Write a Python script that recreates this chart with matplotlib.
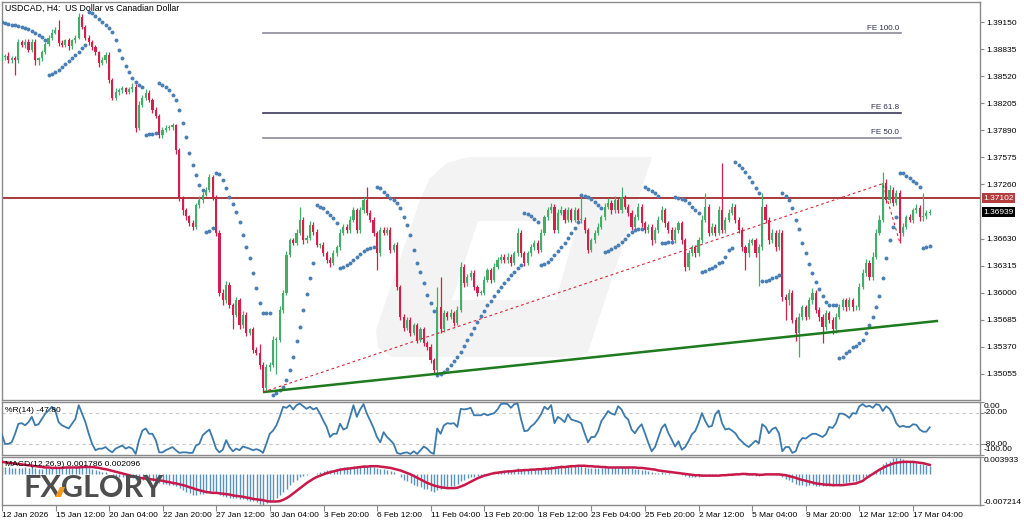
import numpy as np
import matplotlib
matplotlib.use("Agg")
import matplotlib.pyplot as plt
from matplotlib.patches import Polygon
from matplotlib import transforms

plt.rcParams['font.family'] = ['Liberation Sans', 'DejaVu Sans']

# ---------------- data ----------------
first_open = 1.3873
closes = [
    1.3875, 1.3876, 1.3871, 1.3873, 1.3871, 1.3892, 1.3889, 1.3892, 1.3883, 1.3892,
    1.3871, 1.3873, 1.3880, 1.3890, 1.3897, 1.3903, 1.3906, 1.3891, 1.3889, 1.3894,
    1.3887, 1.3894, 1.3897, 1.3921, 1.3910, 1.3897, 1.3892, 1.3886, 1.3880, 1.3868,
    1.3871, 1.3877, 1.3848, 1.3827, 1.3834, 1.3836, 1.3838, 1.3834, 1.3837, 1.3840,
    1.3792, 1.3819, 1.3827, 1.3833, 1.3825, 1.3813, 1.3806, 1.3784, 1.3790, 1.3792,
    1.3793, 1.3795, 1.3766, 1.3711, 1.3696, 1.3689, 1.3681, 1.3677, 1.3702, 1.3708,
    1.3714, 1.3720, 1.3735, 1.3711, 1.3670, 1.3600, 1.3591, 1.3609, 1.3586, 1.3574,
    1.3591, 1.3562, 1.3574, 1.3553, 1.3557, 1.3533, 1.3530, 1.3516, 1.3489, 1.3513,
    1.3516, 1.3545, 1.3545, 1.3580, 1.3600, 1.3644, 1.3661, 1.3658, 1.3670, 1.3685,
    1.3661, 1.3664, 1.3679, 1.3671, 1.3656, 1.3656, 1.3646, 1.3638, 1.3635, 1.3646,
    1.3653, 1.3670, 1.3677, 1.3673, 1.3685, 1.3696, 1.3673, 1.3696, 1.3708, 1.3693,
    1.3685, 1.3670, 1.3646, 1.3673, 1.3670, 1.3673, 1.3650, 1.3656, 1.3607, 1.3572,
    1.3559, 1.3568, 1.3553, 1.3562, 1.3545, 1.3557, 1.3541, 1.3537, 1.3522, 1.3510,
    1.3583, 1.3557, 1.3576, 1.3572, 1.3576, 1.3565, 1.3580, 1.3630, 1.3611, 1.3618,
    1.3623, 1.3607, 1.3600, 1.3600, 1.3615, 1.3626, 1.3615, 1.3630, 1.3638, 1.3642,
    1.3638, 1.3642, 1.3635, 1.3646, 1.3670, 1.3646, 1.3635, 1.3646, 1.3653, 1.3658,
    1.3650, 1.3670, 1.3688, 1.3696, 1.3700, 1.3673, 1.3693, 1.3696, 1.3685, 1.3696,
    1.3685, 1.3696, 1.3685, 1.3685, 1.3673, 1.3650, 1.3661, 1.3670, 1.3677, 1.3688,
    1.3700, 1.3705, 1.3696, 1.3708, 1.3696, 1.3711, 1.3700, 1.3693, 1.3677, 1.3688,
    1.3700, 1.3681, 1.3673, 1.3677, 1.3661, 1.3673, 1.3685, 1.3696, 1.3681, 1.3673,
    1.3661, 1.3673, 1.3681, 1.3661, 1.3630, 1.3646, 1.3653, 1.3646, 1.3661, 1.3685,
    1.3700, 1.3670, 1.3677, 1.3670, 1.3696, 1.3673, 1.3685, 1.3693, 1.3700, 1.3685,
    1.3673, 1.3653, 1.3646, 1.3658, 1.3661, 1.3646, 1.3653, 1.3700, 1.3685, 1.3661,
    1.3670, 1.3653, 1.3670, 1.3595, 1.3591, 1.3600, 1.3568, 1.3553, 1.3572, 1.3583,
    1.3572, 1.3591, 1.3600, 1.3580, 1.3572, 1.3560, 1.3576, 1.3568, 1.3557, 1.3572,
    1.3583, 1.3591, 1.3583, 1.3591, 1.3583, 1.3583, 1.3607, 1.3623, 1.3635, 1.3618,
    1.3642, 1.3670, 1.3685, 1.3728, 1.3708, 1.3720, 1.3705, 1.3716, 1.3670, 1.3677,
    1.3688, 1.3685, 1.3696, 1.3699, 1.3688, 1.3689, 1.3693, 1.36939,
]
# wick lengths above / below the body, in pips
upper_wick_pips = [
    3, 2, 4, 3, 3, 4, 2, 3, 3, 4, 3, 2, 3, 2, 3, 4, 3, 12, 3, 2,
    3, 2, 3, 5, 4, 2, 3, 2, 3, 2, 4, 3, 3, 2, 4, 3, 3, 2, 3, 4,
    3, 4, 3, 4, 3, 2, 3, 2, 3, 3, 2, 3, 2, 3, 2, 3, 2, 4, 3, 4,
    3, 3, 3, 2, 3, 3, 4, 5, 3, 2, 4, 3, 4, 3, 2, 3, 3, 10, 3, 4,
    3, 4, 3, 4, 3, 4, 3, 3, 4, 15, 3, 3, 4, 3, 3, 2, 3, 2, 3, 4,
    3, 4, 3, 3, 4, 4, 3, 4, 3, 15, 3, 3, 2, 4, 3, 3, 3, 2, 3, 2,
    3, 4, 3, 3, 2, 3, 3, 2, 3, 2, 23, 35, 4, 3, 5, 3, 4, 6, 3, 4,
    3, 3, 2, 3, 4, 3, 3, 4, 3, 3, 3, 4, 3, 3, 5, 3, 2, 3, 4, 3,
    3, 4, 3, 4, 5, 3, 4, 5, 3, 4, 3, 4, 3, 27, 3, 2, 3, 3, 4, 3,
    4, 5, 3, 4, 3, 12, 3, 3, 3, 4, 4, 3, 3, 3, 3, 4, 4, 5, 3, 3,
    3, 4, 3, 3, 3, 4, 3, 3, 4, 5, 16, 3, 4, 3, 5, 55, 3, 4, 5, 3,
    3, 3, 3, 4, 3, 3, 4, 16, 3, 3, 4, 3, 4, 3, 3, 4, 3, 3, 4, 3,
    3, 4, 5, 3, 3, 3, 4, 3, 3, 4, 4, 3, 3, 4, 3, 3, 4, 5, 4, 3,
    5, 4, 5, 12, 4, 5, 3, 4, 3, 4, 3, 4, 3, 4, 3, 27, 3, 3,
]
lower_wick_pips = [
    3, 4, 3, 3, 17, 3, 3, 4, 3, 3, 6, 6, 3, 2, 3, 3, 2, 4, 3, 3,
    4, 3, 3, 2, 3, 3, 4, 3, 3, 5, 3, 3, 4, 3, 3, 4, 3, 3, 3, 3,
    5, 3, 3, 2, 3, 4, 3, 4, 4, 3, 3, 3, 4, 4, 5, 4, 3, 4, 3, 3,
    3, 2, 3, 3, 4, 4, 5, 3, 4, 17, 3, 5, 3, 4, 3, 4, 3, 5, 5, 3,
    4, 3, 40, 3, 4, 3, 3, 3, 3, 3, 4, 3, 3, 4, 3, 4, 3, 4, 5, 3,
    3, 3, 3, 4, 3, 3, 4, 3, 3, 3, 3, 4, 20, 3, 3, 3, 4, 3, 4, 4,
    4, 3, 4, 3, 4, 3, 3, 4, 4, 4, 4, 4, 3, 4, 3, 4, 3, 3, 4, 3,
    3, 4, 4, 3, 3, 3, 4, 3, 3, 3, 3, 3, 4, 3, 3, 4, 4, 3, 3, 3,
    4, 3, 3, 3, 3, 4, 3, 3, 4, 3, 3, 3, 3, 4, 4, 4, 3, 3, 3, 3,
    3, 3, 4, 3, 3, 3, 3, 4, 4, 3, 3, 4, 3, 3, 5, 3, 3, 3, 4, 3,
    4, 3, 3, 4, 5, 4, 3, 4, 3, 3, 3, 4, 3, 4, 3, 4, 3, 3, 3, 4,
    3, 4, 20, 4, 3, 5, 38, 3, 4, 4, 3, 4, 3, 5, 23, 5, 4, 10, 28, 4,
    4, 3, 4, 4, 5, 19, 4, 3, 5, 4, 3, 3, 4, 3, 4, 3, 3, 3, 4, 3,
    3, 3, 3, 3, 4, 3, 4, 3, 12, 4, 3, 3, 4, 3, 4, 4, 3, 3,
]
# Parabolic SAR dots
sar = [
    1.3915, 1.3914, 1.3913, 1.3912, 1.3912, 1.3911, 1.3910, 1.3908, 1.3907, 1.3905,
    1.3903, 1.3900, 1.3898, 1.3894,
    1.3854, 1.3855, 1.3857, 1.3859, 1.3863, 1.3866, 1.3870, 1.3873, 1.3877, 1.3880, 1.3885, 1.3889,
    1.3927, 1.3926, 1.3922, 1.3919, 1.3915, 1.3912, 1.3908, 1.3904, 1.3894, 1.3883,
    1.3873, 1.3864, 1.3857, 1.3850, 1.3845, 1.3842, 1.3840,
    1.3784, 1.3785, 1.3785, 1.3786,
    1.3844, 1.3842, 1.3840, 1.3836, 1.3830, 1.3824, 1.3813, 1.3798, 1.3781, 1.3763,
    1.3749, 1.3737, 1.3725, 1.3720,
    1.3671, 1.3672, 1.3675,
    1.3739, 1.3738, 1.3731, 1.3722, 1.3711, 1.3703, 1.3694, 1.3682, 1.3667, 1.3653,
    1.3640, 1.3623, 1.3605, 1.3588, 1.3576, 1.3576, 1.3576,
    1.3481, 1.3483, 1.3487, 1.3490, 1.3498, 1.3510, 1.3525, 1.3543, 1.3560, 1.3580,
    1.3598, 1.3617, 1.3635,
    1.3702, 1.3700, 1.3699, 1.3694, 1.3691, 1.3687, 1.3681,
    1.3629, 1.3630, 1.3632, 1.3635, 1.3638, 1.3642, 1.3645, 1.3649, 1.3651, 1.3652, 1.3653,
    1.3723, 1.3722, 1.3717, 1.3714, 1.3710, 1.3708, 1.3705, 1.3699, 1.3688, 1.3679,
    1.3667, 1.3650, 1.3635, 1.3624, 1.3611, 1.3597, 1.3588, 1.3578,
    1.3504, 1.3505, 1.3508, 1.3511, 1.3516, 1.3520, 1.3525, 1.3531, 1.3538, 1.3545,
    1.3552, 1.3559, 1.3566, 1.3573, 1.3579, 1.3585, 1.3590, 1.3596, 1.3602, 1.3607,
    1.3611, 1.3616, 1.3621, 1.3624, 1.3629, 1.3632,
    1.3693, 1.3692, 1.3689, 1.3686, 1.3682,
    1.3632, 1.3633, 1.3636, 1.3639, 1.3644, 1.3649, 1.3653, 1.3658, 1.3664, 1.3670,
    1.3675, 1.3682,
    1.3714, 1.3713, 1.3711, 1.3709, 1.3706, 1.3702, 1.3699,
    1.3647, 1.3649, 1.3651, 1.3653, 1.3656, 1.3659, 1.3663, 1.3667, 1.3671, 1.3673,
    1.3674, 1.3674,
    1.3723, 1.3721, 1.3718, 1.3716, 1.3713,
    1.3658, 1.3658, 1.3659, 1.3659,
    1.3711, 1.3710, 1.3709, 1.3708, 1.3705, 1.3700, 1.3696, 1.3693,
    1.3624, 1.3625, 1.3628, 1.3629, 1.3631, 1.3635, 1.3636, 1.3642, 1.3650, 1.3652,
    1.3752, 1.3749, 1.3745, 1.3741, 1.3735, 1.3729, 1.3722, 1.3716,
    1.3614, 1.3614, 1.3615, 1.3617, 1.3618, 1.3621,
    1.3716, 1.3713, 1.3708, 1.3699, 1.3685, 1.3674, 1.3658, 1.3646, 1.3633, 1.3623,
    1.3612, 1.3604, 1.3596, 1.3589, 1.3585, 1.3585, 1.3585,
    1.3524, 1.3525, 1.3529, 1.3532, 1.3536, 1.3538, 1.3541, 1.3545, 1.3553, 1.3562,
    1.3572, 1.3583, 1.3596, 1.3617, 1.3640, 1.3661, 1.3677, 1.3688,
    1.3739, 1.3739, 1.3736, 1.3734, 1.3730, 1.3728, 1.3723,
    1.3652, 1.3653, 1.3654,
]
# Williams %R(14)
williams_r = [
    -60, -79, -79, -76, -60, -41, -40, -44, -38, -28, -44, -42, -32, -22, -16, -9, -16, -38, -44, -47,
    -50, -41, -32, -6, -22, -38, -60, -79, -91, -88, -88, -85, -91, -95, -88, -85, -82, -88, -85, -88,
    -98, -72, -54, -50, -60, -60, -72, -95, -95, -91, -88, -85, -91, -96, -95, -95, -96, -96, -82, -79,
    -63, -57, -52, -69, -88, -95, -90, -72, -85, -93, -88, -91, -84, -86, -88, -91, -89, -91, -96, -79,
    -60, -54, -44, -28, -9, -11, -6, -14, -6, -3, -8, -13, -9, -14, -11, -22, -35, -47, -66, -60,
    -60, -41, -52, -49, -28, -6, -28, -14, -4, -22, -35, -49, -66, -76, -57, -66, -72, -79, -96, -98,
    -96, -95, -98, -93, -98, -91, -84, -88, -95, -98, -50, -60, -44, -40, -41, -40, -47, -13, -14, -13,
    -11, -25, -25, -25, -22, -25, -23, -21, -14, -4, -3, -4, -11, -4, -3, -32, -55, -54, -46, -41,
    -33, -23, -9, -14, -6, -40, -28, -32, -38, -23, -33, -35, -37, -40, -59, -76, -66, -66, -55, -36,
    -27, -17, -22, -24, -8, -14, -27, -33, -52, -59, -49, -42, -59, -77, -93, -85, -67, -49, -42, -59,
    -71, -84, -74, -90, -85, -74, -61, -55, -40, -21, -36, -47, -45, -23, -16, -40, -52, -50, -54, -59,
    -69, -75, -81, -85, -79, -73, -78, -42, -47, -59, -51, -48, -59, -93, -85, -85, -96, -93, -76, -68,
    -69, -64, -60, -60, -63, -66, -61, -47, -49, -40, -22, -22, -25, -30, -21, -22, -8, -4, -9, -7,
    -11, -4, -6, -17, -8, -13, -24, -40, -47, -45, -47, -47, -42, -43, -52, -56, -56, -47.8,
]
# MACD(12,26,9) main (histogram) and signal
macd_main = [
    0.0017, 0.0016, 0.0015, 0.0014, 0.0013, 0.0014, 0.0014, 0.0015, 0.0014, 0.0015,
    0.0013, 0.0012, 0.0012, 0.0013, 0.0014, 0.0016, 0.0017, 0.0016, 0.0015, 0.0015,
    0.0014, 0.0014, 0.0015, 0.0018, 0.0018, 0.0016, 0.0014, 0.0012, 0.0010, 0.0007,
    0.0005, 0.0004, 0.0001, -0.0003, -0.0005, -0.0006, -0.0007, -0.0008, -0.0009, -0.0009,
    -0.0014, -0.0015, -0.0015, -0.0014, -0.0015, -0.0016, -0.0018, -0.0021, -0.0023, -0.0024,
    -0.0025, -0.0025, -0.0027, -0.0033, -0.0038, -0.0042, -0.0045, -0.0048, -0.0048, -0.0047,
    -0.0046, -0.0044, -0.0041, -0.0040, -0.0042, -0.0048, -0.0052, -0.0053, -0.0055, -0.0057,
    -0.0057, -0.0059, -0.0059, -0.0061, -0.0062, -0.0064, -0.0065, -0.0069, -0.007214, -0.0067,
    -0.0064, -0.0060, -0.0055, -0.0049, -0.0042, -0.0034, -0.0026, -0.0019, -0.0013, -0.0008,
    -0.0005, -0.0003, -0.0001, 0.0001, 0.0003, 0.0005, 0.0007, 0.0008, 0.0009, 0.0010,
    0.0012, 0.0014, 0.0015, 0.0016, 0.0017, 0.0018, 0.0018, 0.0019, 0.0020, 0.0019,
    0.0018, 0.0016, 0.0013, 0.0012, 0.0011, 0.0010, 0.0007, 0.0005, 0.0000, -0.0007,
    -0.0013, -0.0017, -0.0022, -0.0025, -0.0029, -0.0031, -0.0034, -0.0036, -0.0039, -0.0042,
    -0.0037, -0.0036, -0.0033, -0.0031, -0.0029, -0.0027, -0.0024, -0.0017, -0.0013, -0.0010,
    -0.0007, -0.0006, -0.0005, -0.0004, -0.0002, 0.0000, 0.0001, 0.0003, 0.0005, 0.0007,
    0.0008, 0.0009, 0.0009, 0.0010, 0.0013, 0.0012, 0.0011, 0.0011, 0.0011, 0.0012,
    0.0011, 0.0013, 0.0015, 0.0017, 0.0019, 0.0018, 0.0019, 0.0020, 0.0019, 0.0020,
    0.0019, 0.0020, 0.0019, 0.0019, 0.0017, 0.0014, 0.0013, 0.0013, 0.0013, 0.0014,
    0.0015, 0.0016, 0.0016, 0.0017, 0.0016, 0.0017, 0.0016, 0.0015, 0.0013, 0.0012,
    0.0012, 0.0010, 0.0008, 0.0007, 0.0004, 0.0003, 0.0003, 0.0004, 0.0003, 0.0002,
    0.0000, -0.0001, -0.0001, -0.0002, -0.0005, -0.0006, -0.0006, -0.0007, -0.0006, -0.0004,
    -0.0002, -0.0003, -0.0003, -0.0003, -0.0001, -0.0001, 0.0000, 0.0001, 0.0002, 0.0002,
    0.0001, 0.0000, -0.0002, -0.0002, -0.0003, -0.0004, -0.0004, 0.0000, 0.0001, 0.0000,
    -0.0001, -0.0002, -0.0002, -0.0008, -0.0012, -0.0015, -0.0019, -0.0023, -0.0025, -0.0026,
    -0.0027, -0.0026, -0.0026, -0.0027, -0.0027, -0.0028, -0.0027, -0.0027, -0.0027, -0.0026,
    -0.0024, -0.0022, -0.0021, -0.0019, -0.0017, -0.0016, -0.0013, -0.0009, -0.0005, -0.0003,
    0.0001, 0.0007, 0.0013, 0.0022, 0.0027, 0.0031, 0.0036, 0.003933, 0.0037, 0.0035,
    0.0032, 0.0030, 0.0028, 0.0026, 0.0024, 0.0022, 0.0020, 0.001786,
]
macd_signal = [
    0.0028, 0.0027, 0.0026, 0.0025, 0.0024, 0.0023, 0.0022, 0.0021, 0.0020, 0.0019,
    0.0018, 0.0017, 0.0016, 0.0015, 0.0015, 0.0014, 0.0014, 0.0014, 0.0014, 0.0015,
    0.0015, 0.0015, 0.0015, 0.0015, 0.0016, 0.0016, 0.0016, 0.0016, 0.0015, 0.0014,
    0.0012, 0.0011, 0.0009, 0.0007, 0.0005, 0.0003, 0.0001, -0.0001, -0.0003, -0.0005,
    -0.0007, -0.0009, -0.0010, -0.0011, -0.0012, -0.0013, -0.0014, -0.0015, -0.0016, -0.0018,
    -0.0019, -0.0021, -0.0022, -0.0024, -0.0026, -0.0028, -0.0031, -0.0033, -0.0036, -0.0038,
    -0.0040, -0.0042, -0.0043, -0.0044, -0.0044, -0.0045, -0.0046, -0.0047, -0.0048, -0.0050,
    -0.0051, -0.0052, -0.0053, -0.0055, -0.0056, -0.0058, -0.0059, -0.0060, -0.0061, -0.0063,
    -0.0064, -0.0064, -0.0064, -0.0063, -0.0060, -0.0056, -0.0051, -0.0045, -0.0039, -0.0033,
    -0.0027, -0.0021, -0.0016, -0.0011, -0.0007, -0.0004, -0.0001, 0.0002, 0.0004, 0.0006,
    0.0008, 0.0010, 0.0011, 0.0012, 0.0013, 0.0014, 0.0015, 0.0016, 0.0017, 0.0017,
    0.0018, 0.0018, 0.0018, 0.0017, 0.0016, 0.0015, 0.0014, 0.0012, 0.0010, 0.0008,
    0.0005, 0.0002, -0.0001, -0.0005, -0.0009, -0.0013, -0.0017, -0.0021, -0.0024, -0.0027,
    -0.0029, -0.0031, -0.0032, -0.0033, -0.0033, -0.0033, -0.0032, -0.0029, -0.0026, -0.0022,
    -0.0018, -0.0014, -0.0010, -0.0007, -0.0004, -0.0002, 0.0000, 0.0002, 0.0003, 0.0004,
    0.0005, 0.0006, 0.0006, 0.0007, 0.0008, 0.0008, 0.0009, 0.0009, 0.0010, 0.0010,
    0.0011, 0.0011, 0.0012, 0.0012, 0.0013, 0.0014, 0.0015, 0.0016, 0.0016, 0.0017,
    0.0018, 0.0018, 0.0019, 0.0019, 0.0019, 0.0018, 0.0018, 0.0017, 0.0017, 0.0016,
    0.0016, 0.0015, 0.0015, 0.0015, 0.0015, 0.0015, 0.0015, 0.0015, 0.0015, 0.0015,
    0.0014, 0.0014, 0.0013, 0.0012, 0.0011, 0.0010, 0.0008, 0.0007, 0.0006, 0.0005,
    0.0004, 0.0003, 0.0002, 0.0001, 0.0000, -0.0001, -0.0002, -0.0003, -0.0003, -0.0004,
    -0.0004, -0.0004, -0.0004, -0.0004, -0.0004, -0.0003, -0.0003, -0.0002, -0.0002, -0.0001,
    -0.0001, 0.0000, 0.0000, -0.0001, -0.0001, -0.0001, -0.0002, -0.0002, -0.0001, -0.0001,
    -0.0001, -0.0001, -0.0001, -0.0002, -0.0003, -0.0005, -0.0007, -0.0009, -0.0012, -0.0014,
    -0.0016, -0.0018, -0.0020, -0.0022, -0.0023, -0.0024, -0.0025, -0.0025, -0.0026, -0.0026,
    -0.0026, -0.0026, -0.0025, -0.0024, -0.0023, -0.0022, -0.0019, -0.0016, -0.0010, -0.0005,
    0.0000, 0.0005, 0.0010, 0.0014, 0.0018, 0.0021, 0.0024, 0.0026, 0.0027, 0.0028,
    0.0028, 0.0028, 0.0028, 0.0027, 0.0026, 0.0025, 0.0023, 0.002096,
]

resistance_level = 1.37102
last_price = 1.36939
shown_price_ticks = [1.39150, 1.38835, 1.38520, 1.38205, 1.37890, 1.37575, 1.37260,
                     1.36630, 1.36315, 1.36000, 1.35685, 1.35370, 1.35055]
time_tick_bars = [0, 16, 32, 48, 64, 80, 96, 112, 128, 144, 160, 176, 192, 208, 224, 240, 256, 272]
time_tick_labels = ["12 Jan 2026", "15 Jan 12:00", "20 Jan 04:00", "22 Jan 20:00", "27 Jan 12:00",
                    "30 Jan 04:00", "3 Feb 20:00", "6 Feb 12:00", "11 Feb 04:00", "13 Feb 20:00",
                    "18 Feb 12:00", "23 Feb 04:00", "25 Feb 20:00", "2 Mar 12:00", "5 Mar 04:00",
                    "9 Mar 20:00", "12 Mar 12:00", "17 Mar 04:00"]
# trend lines (bar index, price)
support_line = [(78, 1.3484), (279.5, 1.3567)]
fe_point_a = (78, 1.3484)
fe_point_b = (263, 1.3727)
fe_point_c = (268, 1.3659)
fe_end_bar = 268.4
fe_ratios = [1.0, 0.618, 0.5]
fe_names = ["FE 100.0", "FE 61.8", "FE 50.0"]
wr_levels = [-20, -80]
macd_range = (-0.007214, 0.003933)

n = len(closes)
for name, arr in [("upper", upper_wick_pips), ("lower", lower_wick_pips), ("sar", sar),
                  ("wr", williams_r), ("macd", macd_main), ("sig", macd_signal)]:
    assert len(arr) == n, (name, len(arr), n)

# ---------------- figure ----------------
W, H = 1024, 524
fig = plt.figure(figsize=(W / 100, H / 100), dpi=100)
fig.patch.set_facecolor('white')


def px_axes(x0, y0, x1, y1):
    return fig.add_axes([x0 / W, 1 - y1 / H, (x1 - x0) / W, (y1 - y0) / H])


def fpt(x, y):
    return (x / W, 1 - y / H)


ax = px_axes(2, 2, 980, 400)
axr = px_axes(2, 402, 980, 455)
axm = px_axes(2, 457, 980, 505)

XLIM = (0.1, 292.0)
spine_col = '#8a8a8a'
for a in (ax, axr, axm):
    a.set_xlim(*XLIM)
    a.set_facecolor('white')
    for s in a.spines.values():
        s.set_color(spine_col)
        s.set_linewidth(1.0)
    a.yaxis.tick_right()
    a.tick_params(axis='y', direction='out', length=3, width=0.8, color=spine_col,
                  labelsize=6, pad=1.5, labelcolor='black')
    a.set_xticks([])

x = np.arange(n)
c = np.array(closes)
o = np.concatenate([[first_open], c[:-1]])
hi = np.maximum(o, c) + np.array(upper_wick_pips) * 1e-4
lo = np.minimum(o, c) - np.array(lower_wick_pips) * 1e-4
up = c >= o
GREEN, RED = '#45ad6a', '#d41f4b'
cols = np.where(up, GREEN, RED)

# watermark (very light)
outer = [fpt(*p) for p in [(420, 200), (430, 178), (447, 163), (468, 157), (652, 157),
                            (588, 352), (580, 357), (392, 357), (378, 348), (376, 330)]]
ax.add_patch(Polygon(outer, closed=True, transform=fig.transFigure, fc='#f3f3f3', ec='none', zorder=0))
inner = [fpt(*p) for p in [(478, 221), (578, 221), (556, 300), (452, 300)]]
ax.add_patch(Polygon(inner, closed=True, transform=fig.transFigure, fc='white', ec='none', zorder=0))

ax.set_ylim(1.34748, 1.39387)
ax.vlines(x, lo, hi, colors=cols, lw=0.9, zorder=3)
body_h = np.maximum(np.abs(c - o), 0.00004)
ax.bar(x, body_h, bottom=np.minimum(o, c), width=0.64, color=cols, lw=0, zorder=3)
ax.scatter(x, sar, s=8, color='#4a7fb3', lw=0, zorder=4)

ax.axhline(resistance_level, color='#a3282b', lw=1.3, zorder=2)
(sx0, sy0), (sx1, sy1) = support_line
ax.plot([sx0, sx1], [sy0, sy1], color='#1d7a1d', lw=1.8, zorder=5, solid_capstyle='butt')
ax.plot([fe_point_a[0], fe_point_b[0], fe_point_c[0]],
        [fe_point_a[1], fe_point_b[1], fe_point_c[1]],
        color='#d8283a', lw=0.8, ls=(0, (2.5, 2.5)), zorder=5)
rng = fe_point_b[1] - fe_point_a[1]
for r, name in zip(fe_ratios, fe_names):
    lvl = fe_point_c[1] + r * rng
    colr = '#3b3b5e' if r == 0.618 else '#8b8b9b'
    ax.plot([fe_point_a[0], fe_end_bar], [lvl, lvl], color=colr, lw=1.2, zorder=2)
    ax.text(fe_end_bar - 0.5, lvl + 0.00022, name, ha='right', va='bottom', fontsize=5.8,
            color='#2e2e4e', zorder=6)

ax.set_yticks(shown_price_ticks)
ax.set_yticklabels([f"{v:.5f}" for v in shown_price_ticks])

blend = transforms.blended_transform_factory(ax.transAxes, ax.transData)
ax.text(1.0035, resistance_level, f"{resistance_level:.5f}", transform=blend, color='white',
        fontsize=6, va='center', ha='left', clip_on=False, zorder=10,
        bbox=dict(boxstyle='square,pad=0.18', fc='#b33c3e', ec='none'))
ax.text(1.0035, last_price, f"{last_price:.5f}", transform=blend, color='white',
        fontsize=6, va='center', ha='left', clip_on=False, zorder=10,
        bbox=dict(boxstyle='square,pad=0.18', fc='black', ec='none'))

fig.text(*fpt(5, 8), "USDCAD, H4:  US Dollar vs Canadian Dollar", fontsize=6.3, va='center', ha='left')

# Williams %R panel
axr.set_ylim(-100, 0)
for lv in wr_levels:
    axr.axhline(lv, color='#c8c8c8', lw=0.8, ls=(0, (3, 3)), zorder=1)
axr.plot(x, williams_r, color='#3c7aab', lw=1.3, zorder=3)
axr.set_yticks([0, -20, -80, -100])
axr.set_yticklabels([])
for lab, ypx in [("0.00", 406), ("-20.00", 412.5), ("-80.00", 444), ("-100.00", 449.5)]:
    fig.text(*fpt(984, ypx), lab, fontsize=6, va='center', ha='left')
fig.text(*fpt(5, 410), "%R(14) -47.80", fontsize=6.1, va='center', ha='left', zorder=10)

# MACD panel
axm.set_ylim(*macd_range)
axm.vlines(x, 0, macd_main, colors='#5a92bf', lw=1.0, zorder=2)
axm.plot(x, macd_signal, color='#c9184a', lw=1.8, zorder=3)
axm.set_yticks(list(macd_range))
axm.set_yticklabels([])
fig.text(*fpt(984, 460), "0.003933", fontsize=6, va='center', ha='left')
fig.text(*fpt(984, 502), "-0.007214", fontsize=6, va='center', ha='left')
fig.text(*fpt(5, 464), "MACD(12,26,9) 0.001786 0.002096", fontsize=6.1, va='center', ha='left', zorder=10)

axm.set_xticks(time_tick_bars)
axm.set_xticklabels(time_tick_labels)
axm.tick_params(axis='x', direction='out', length=4, width=0.8, color=spine_col,
                labelsize=6, pad=1.0)
for lab in axm.get_xticklabels():
    lab.set_ha('left')

# FXGLORY logo
fig.text(*fpt(24, 497), "FXGLORY", fontsize=22, fontweight='bold', family=['Lato', 'DejaVu Sans'],
         color='#4e4e4e', va='baseline', ha='left', zorder=20)
orange = [fpt(*p) for p in [(55, 497), (60, 487), (65, 487), (61, 497)]]
fig.patches.append(Polygon(orange, closed=True, transform=fig.transFigure, fc='#f29a1f', ec='none', zorder=21))

fig.savefig("out.png", dpi=100, facecolor='white')
